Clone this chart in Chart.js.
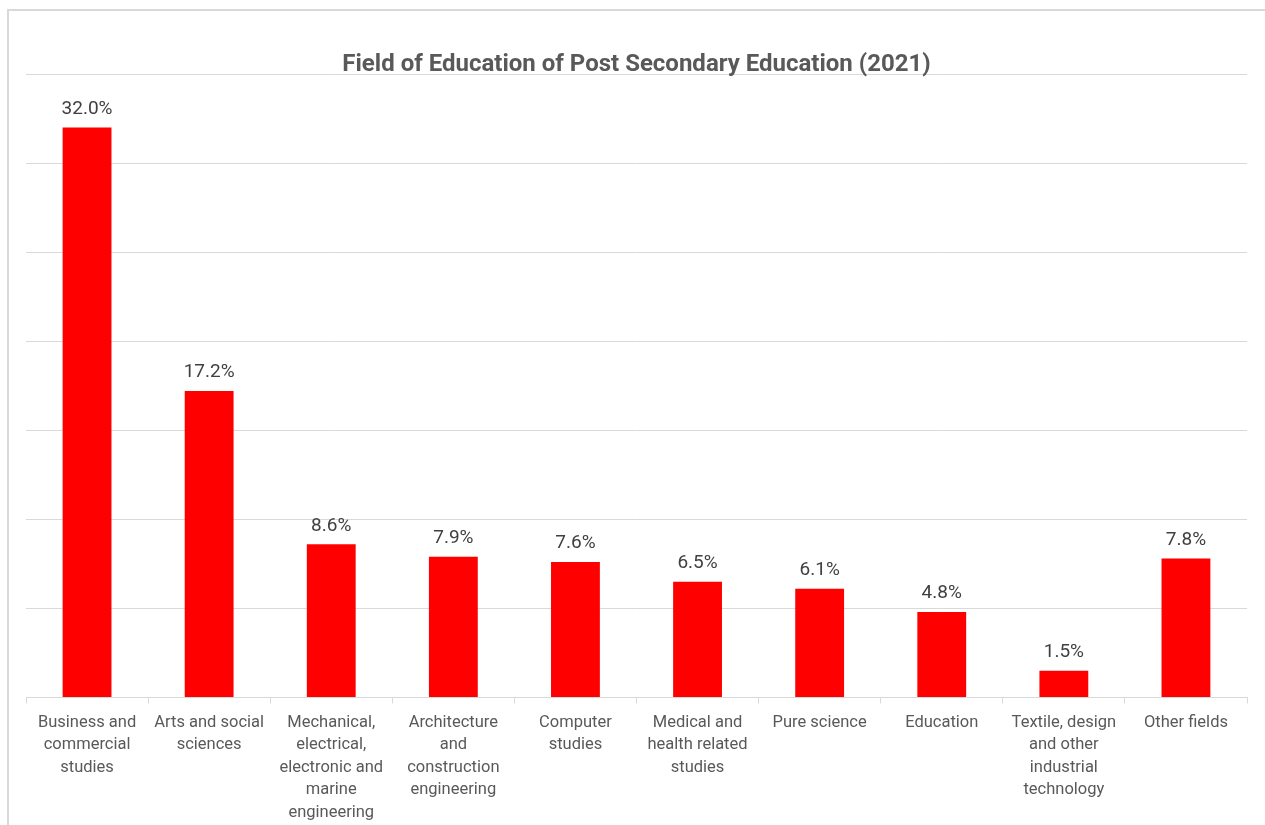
<!DOCTYPE html>
<html>
<head>
<meta charset="utf-8">
<script src="https://cdn.jsdelivr.net/npm/chart.js@4/dist/chart.umd.min.js"></script>
<style>
  html, body { margin: 0; padding: 0; background: #fff; overflow: hidden; }
  #frame { position: absolute; left: 7px; top: 9px; width: 1280px; height: 840px; border: 2px solid #d9d9d9; box-sizing: border-box; }
  #wrap { position: absolute; left: 0; top: 0; width: 1265px; height: 825px; }
</style>
</head>
<body>
<div id="frame"></div>
<div id="wrap"><canvas id="ch"></canvas></div>
<script>
// ── Datos ─────────────────────────────────────────────────────────────
const categories = [
    ['Business and', 'commercial', 'studies'],
    ['Arts and social', 'sciences'],
    ['Mechanical,', 'electrical,', 'electronic and', 'marine', 'engineering'],
    ['Architecture', 'and', 'construction', 'engineering'],
    ['Computer', 'studies'],
    ['Medical and', 'health related', 'studies'],
    ['Pure science'],
    ['Education'],
    ['Textile, design', 'and other', 'industrial', 'technology'],
    ['Other fields'],
];
const shares = [32.0, 17.2, 8.6, 7.9, 7.6, 6.5, 6.1, 4.8, 1.5, 7.8];

const FONT = 'Roboto, "Noto Sans", sans-serif';

// ── Etiquetas encima de cada barra ────────────────────────────────────
const barLabels = {
    id: 'barLabels',
    afterDatasetsDraw(chart) {
        const ctx = chart.ctx;
        const meta = chart.getDatasetMeta(0);
        ctx.save();
        ctx.font = '19px ' + FONT;
        ctx.fillStyle = '#404040';
        ctx.textAlign = 'center';
        ctx.textBaseline = 'bottom';
        meta.data.forEach((bar, i) => {
            ctx.fillText(shares[i].toFixed(1) + '%', bar.x, bar.y - 9);
        });
        ctx.restore();
    },
};

new Chart(document.getElementById('ch'), {
    type: 'bar',
    data: {
        labels: categories,
        datasets: [{
            data: shares,
            backgroundColor: '#ff0000',
            barPercentage: 0.4,
            categoryPercentage: 1,
        }],
    },
    options: {
        responsive: true, maintainAspectRatio: false, animation: false,
        layout: { padding: { left: 26, right: 18, top: 0, bottom: 1 } },
        plugins: {
            legend: { display: false },
            tooltip: { enabled: false },
            title: {
                display: true,
                text: 'Field of Education of Post Secondary Education (2021)',
                color: '#595959',
                font: { family: FONT, size: 24, weight: 'bold', lineHeight: 1 },
                padding: { top: 53, bottom: -3 },
            },
        },
        scales: {
            x: {
                grid: { display: true, drawOnChartArea: false, drawTicks: true, tickLength: 6, color: '#d9d9d9', offset: true },
                border: { display: true, color: '#d9d9d9', width: 1 },
                ticks: {
                    autoSkip: false, maxRotation: 0, minRotation: 0, padding: 8,
                    color: '#595959',
                    font: { family: FONT, size: 16.5, lineHeight: '22.5px' },
                },
                // el padding de ticks se cuenta dos veces; quitar el sobrante
                afterFit: s => { s.height -= 8; },
            },
            y: {
                min: 0, max: 35,
                ticks: { display: false, stepSize: 5 },
                grid: { color: '#d9d9d9', drawTicks: false },
                border: { display: false },
            },
        },
    },
    plugins: [barLabels],
});
</script>
</body>
</html>
